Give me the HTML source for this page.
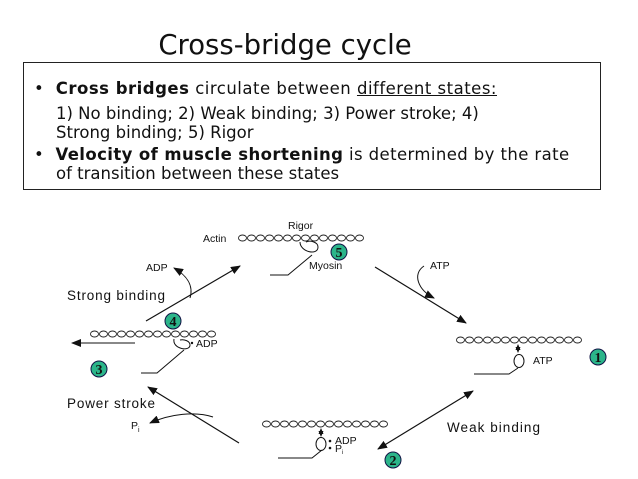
<!DOCTYPE html>
<html><head><meta charset="utf-8"><style>
body{margin:0;width:638px;height:479px;background:#fff;overflow:hidden;font-family:"DejaVu Sans","Liberation Sans",sans-serif;}
.t{position:absolute;left:0;width:570px;text-align:center;top:29px;font-size:27.5px;color:#111;}
.box{position:absolute;left:23px;top:62px;width:578px;height:128px;border:1px solid #222;box-sizing:border-box;}
.l{position:absolute;font-size:16.5px;color:#111;white-space:nowrap;}
svg{position:absolute;left:0;top:0}
</style></head><body>
<div class="t">Cross-bridge cycle</div>
<div class="box"></div>
<div class="l" style="left:34px;top:79px;letter-spacing:0.5px">•&nbsp;&nbsp;<b>Cross bridges</b> circulate between <u>different states:</u></div>
<div class="l" style="left:56px;top:104px">1) No binding; 2) Weak binding; 3) Power stroke; 4)</div>
<div class="l" style="left:56px;top:123px">Strong binding; 5) Rigor</div>
<div class="l" style="left:34px;top:145px;letter-spacing:0.4px">•&nbsp;&nbsp;<b>Velocity of muscle shortening</b> is determined by the rate</div>
<div class="l" style="left:56px;top:164px">of transition between these states</div>
<svg width="638" height="479" viewBox="0 0 638 479">
<defs>
<g id="ch"><g fill="#fff" stroke="#222" stroke-width="0.9">
<ellipse cx="4.5" cy="0" rx="4" ry="3"/><ellipse cx="13.5" cy="0" rx="4" ry="3"/><ellipse cx="22.5" cy="0" rx="4" ry="3"/><ellipse cx="31.5" cy="0" rx="4" ry="3"/><ellipse cx="40.5" cy="0" rx="4" ry="3"/><ellipse cx="49.5" cy="0" rx="4" ry="3"/><ellipse cx="58.5" cy="0" rx="4" ry="3"/><ellipse cx="67.5" cy="0" rx="4" ry="3"/><ellipse cx="76.5" cy="0" rx="4" ry="3"/><ellipse cx="85.5" cy="0" rx="4" ry="3"/><ellipse cx="94.5" cy="0" rx="4" ry="3"/><ellipse cx="103.5" cy="0" rx="4" ry="3"/><ellipse cx="112.5" cy="0" rx="4" ry="3"/><ellipse cx="121.5" cy="0" rx="4" ry="3"/></g></g>
<marker id="a" markerWidth="10" markerHeight="8" refX="9" refY="4" orient="auto" markerUnits="userSpaceOnUse"><path d="M0,0L10,4L0,8z" fill="#111"/></marker>
<marker id="as" markerWidth="10" markerHeight="8" refX="1" refY="4" orient="auto" markerUnits="userSpaceOnUse"><path d="M10,0L0,4L10,8z" fill="#111"/></marker>
<marker id="m" markerWidth="6" markerHeight="5" refX="5" refY="2.5" orient="auto" markerUnits="userSpaceOnUse"><path d="M0,0L6,2.5L0,5z" fill="#111"/></marker>
<marker id="ms" markerWidth="6" markerHeight="5" refX="1" refY="2.5" orient="auto" markerUnits="userSpaceOnUse"><path d="M6,0L0,2.5L6,5z" fill="#111"/></marker>
</defs>
<g font-family="Liberation Sans,sans-serif" font-size="10.5" fill="#111">
<!-- rigor -->
<text x="288" y="229">Rigor</text>
<text x="203" y="242">Actin</text>
<use href="#ch" x="238" y="238"/>
<path d="M300,242 C300,252 318,256 318,247 C318,242 310,240 306,242" fill="none" stroke="#111"/>
<path d="M270,275 L288,275 L312,255" fill="none" stroke="#111"/>
<text x="309" y="269">Myosin</text>
<!-- state 1 -->
<use href="#ch" x="456" y="340"/>
<line x1="518" y1="345" x2="518" y2="352" stroke="#111" marker-end="url(#m)" marker-start="url(#ms)"/>
<ellipse cx="519" cy="361" rx="5" ry="6.5" fill="none" stroke="#111"/>
<text x="533" y="364">ATP</text>
<path d="M474,374 L509,374 L518,368" fill="none" stroke="#111"/>
<!-- state 2 -->
<use href="#ch" x="262" y="424"/>
<line x1="321" y1="429" x2="321" y2="436" stroke="#111" marker-end="url(#m)" marker-start="url(#ms)"/>
<ellipse cx="321" cy="444" rx="5" ry="6.5" fill="none" stroke="#111"/>
<circle cx="330" cy="441" r="1.3"/><circle cx="330" cy="448" r="1.3"/>
<text x="335" y="444">ADP</text><text x="335" y="452">P</text><text x="342" y="454" font-size="6">i</text>
<path d="M278,458 L312,458 L322,450" fill="none" stroke="#111"/>
<!-- state 3/4 -->
<use href="#ch" x="90" y="334"/>
<path d="M174,339 C172,349 190,352 190,345 C190,341 184,339 180,340" fill="none" stroke="#111"/>
<circle cx="192" cy="343" r="1.2"/>
<text x="196" y="347">ADP</text>
<path d="M141,373 L157,373 L184,350" fill="none" stroke="#111"/>
<line x1="135" y1="343" x2="72" y2="343" stroke="#111" marker-end="url(#a)"/>
<!-- arrows -->
<line x1="146" y1="321" x2="240" y2="266" stroke="#111" stroke-width="1.2" marker-end="url(#a)"/>
<path d="M190,298 C194,285 186,275 174,268" fill="none" stroke="#111" marker-end="url(#a)"/>
<text x="146" y="271">ADP</text>
<text x="67" y="300" font-size="13.5" textLength="98">Strong binding</text>
<line x1="375" y1="267" x2="466" y2="323" stroke="#111" stroke-width="1.2" marker-end="url(#a)"/>
<path d="M424,266 C412,274 418,290 434,298" fill="none" stroke="#111" marker-end="url(#a)"/>
<text x="430" y="269">ATP</text>
<line x1="473" y1="391" x2="378" y2="449" stroke="#111" stroke-width="1.2" marker-end="url(#a)" marker-start="url(#as)"/>
<text x="447" y="432" font-size="13.5" textLength="93">Weak binding</text>
<line x1="239" y1="443" x2="148" y2="387" stroke="#111" stroke-width="1.2" marker-end="url(#a)"/>
<path d="M213,417 C195,411 170,414 150,423" fill="none" stroke="#111" marker-end="url(#a)"/>
<text x="67" y="408" font-size="13.5" textLength="88">Power stroke</text>
<text x="131" y="429">P</text><text x="138" y="432" font-size="7">i</text>
</g>
<g font-family="Liberation Serif,serif" font-size="14" font-weight="bold" text-anchor="middle" fill="#111">
<circle cx="339" cy="252" r="8" fill="#2bb58a" stroke="#114"/><text x="339" y="257">5</text>
<circle cx="598" cy="357" r="8" fill="#2bb58a" stroke="#114"/><text x="598" y="362">1</text>
<circle cx="393" cy="460" r="8" fill="#2bb58a" stroke="#114"/><text x="393" y="465">2</text>
<circle cx="173" cy="321" r="8" fill="#2bb58a" stroke="#114"/><text x="173" y="326">4</text>
<circle cx="99" cy="369" r="8" fill="#2bb58a" stroke="#114"/><text x="99" y="374">3</text>
</g>
</svg>
</body></html>
